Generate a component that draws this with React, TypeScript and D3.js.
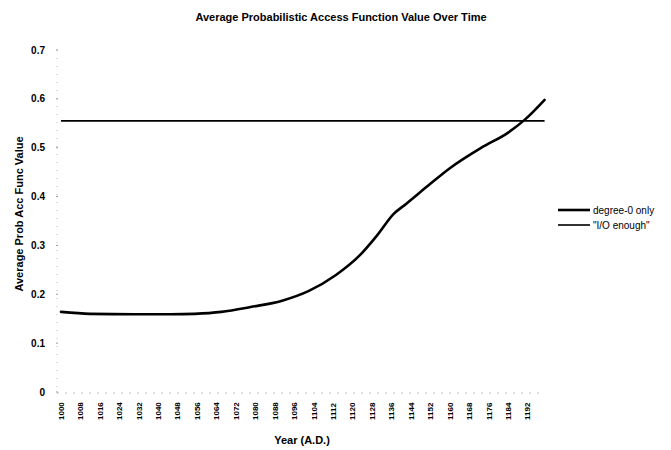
import React from "react";
import * as d3 from "d3";

const title = "Average Probabilistic Access Function Value Over Time";
const xTitle = "Year (A.D.)";
const yTitle = "Average Prob Acc Func Value";

const tickYears = [1000, 1008, 1016, 1024, 1032, 1040, 1048, 1056, 1064, 1072, 1080, 1088, 1096, 1104, 1112, 1120, 1128, 1136, 1144, 1152, 1160, 1168, 1176, 1184, 1192];
const yTicks = [0, 0.1, 0.2, 0.3, 0.4, 0.5, 0.6, 0.7];
const yTickLabels = ["0", "0.1", "0.2", "0.3", "0.4", "0.5", "0.6", "0.7"];

const degreeYears = [1000, 1012, 1030, 1045, 1055, 1066, 1078, 1091, 1102, 1113, 1123, 1130, 1137, 1142, 1151, 1160, 1173, 1184, 1191, 1199];
const degreeValues = [0.164, 0.160, 0.159, 0.159, 0.160, 0.164, 0.174, 0.187, 0.207, 0.239, 0.280, 0.320, 0.365, 0.385, 0.422, 0.458, 0.500, 0.531, 0.558, 0.598];

const ioYears = [1000, 1199];
const ioValues = [0.555, 0.555];

const seriesNames = ["degree-0 only", "\"I/O enough\""];

export default function App() {
  const W = 671, H = 450;
  const x = d3.scaleLinear().domain([1000, 1199]).range([61, 544.6]);
  const y = d3.scaleLinear().domain([0, 0.7]).range([392, 50]);
  const line = d3.line<[number, number]>().x(d => x(d[0])).y(d => y(d[1])).curve(d3.curveMonotoneX);
  const degPts = degreeYears.map((yr, i) => [yr, degreeValues[i]] as [number, number]);
  const ioPts = ioYears.map((yr, i) => [yr, ioValues[i]] as [number, number]);
  const font = "'Liberation Sans', Arial, sans-serif";
  return (
    <svg width={W} height={H} style={{ position: "absolute", left: 0, top: 0, background: "#fff" }} fontFamily={font}>
      <rect x={0} y={0} width={W} height={H} fill="#fff" />
      <text x={341} y={21} textAnchor="middle" fontSize={11} fontWeight="bold">{title}</text>
      {/* axes */}
      <line x1={57} x2={57} y1={y(0.7)} y2={y(0)} stroke="#bbb" strokeWidth={1} strokeDasharray="1,7" />
      <line x1={57} x2={545} y1={y(0) + 1} y2={y(0) + 1} stroke="#bbb" strokeWidth={1} strokeDasharray="2,6" />
      {yTicks.map((t, i) => (
        <g key={t}>
          <line x1={56} x2={58} y1={y(t)} y2={y(t)} stroke="#999" />
          <text x={45} y={y(t)} dy="0.35em" textAnchor="end" fontSize={10} fontWeight="bold">{yTickLabels[i]}</text>
        </g>
      ))}
      {tickYears.map(t => (
        <text key={t} transform={`translate(${x(t)},420) rotate(-90)`} dy="0.35em" textAnchor="start" fontSize={8} fontWeight="bold">{t}</text>
      ))}
      <text x={302} y={444} textAnchor="middle" fontSize={11} fontWeight="bold">{xTitle}</text>
      <text transform="translate(19,214) rotate(-90)" dy="0.35em" textAnchor="middle" fontSize={11} fontWeight="bold">{yTitle}</text>
      {/* series */}
      <path d={line(ioPts) || ""} fill="none" stroke="#000" strokeWidth={1.6} />
      <path d={line(degPts) || ""} fill="none" stroke="#000" strokeWidth={2.6} strokeLinecap="round" />
      {/* legend */}
      <line x1={558} x2={590} y1={210} y2={210} stroke="#000" strokeWidth={2.6} />
      <text x={593} y={210} dy="0.35em" fontSize={10}>{seriesNames[0]}</text>
      <line x1={558} x2={590} y1={225} y2={225} stroke="#000" strokeWidth={1.6} />
      <text x={593} y={225} dy="0.35em" fontSize={10}>{seriesNames[1]}</text>
    </svg>
  );
}
